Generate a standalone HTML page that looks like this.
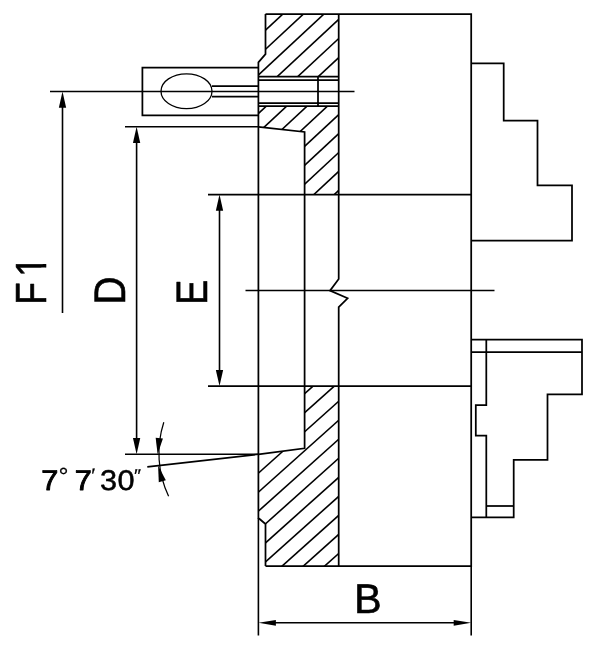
<!DOCTYPE html>
<html lang="en">
<head>
<meta charset="utf-8">
<title>Chuck dimension drawing</title>
<style>
html,body{margin:0;padding:0;background:#fff;}
body{width:600px;height:650px;overflow:hidden;}
svg{display:block;}
</style>
</head>
<body>
<svg width="600" height="650" viewBox="0 0 600 650">
<rect width="600" height="650" fill="#fff"/>
<defs>
<clipPath id="ct"><path d="M265.50 14.10 L338.70 14.10 L338.70 194.60 L304.60 194.60 L304.60 132.00 L258.40 126.80 L258.40 62.30 L265.50 54.20 Z"/></clipPath>
<clipPath id="cha"><path d="M0 0H600V76.60H0Z"/></clipPath>
<clipPath id="chb"><path d="M0 106.20H600V650H0Z"/></clipPath>
<clipPath id="cb"><path d="M304.60 386.10 L338.70 386.10 L338.70 566.00 L265.50 566.00 L265.50 524.00 L258.40 518.00 L258.40 454.30 L304.60 448.30 Z"/></clipPath>
</defs>
<g stroke="#000" stroke-width="1.60" fill="none">
<g clip-path="url(#ct)">
<g clip-path="url(#cha)">
<line x1="250.00" y1="6.41" x2="345.00" y2="-81.94"/>
<line x1="250.00" y1="25.51" x2="345.00" y2="-62.84"/>
<line x1="250.00" y1="44.61" x2="345.00" y2="-43.74"/>
<line x1="250.00" y1="63.71" x2="345.00" y2="-24.64"/>
<line x1="250.00" y1="82.81" x2="345.00" y2="-5.54"/>
<line x1="250.00" y1="101.91" x2="345.00" y2="13.56"/>
<line x1="250.00" y1="121.01" x2="345.00" y2="32.66"/>
<line x1="250.00" y1="140.11" x2="345.00" y2="51.76"/>
<line x1="250.00" y1="159.21" x2="345.00" y2="70.86"/>
</g>
<g clip-path="url(#chb)">
<line x1="250.00" y1="102.36" x2="345.00" y2="14.01"/>
<line x1="250.00" y1="121.31" x2="345.00" y2="32.96"/>
<line x1="250.00" y1="140.26" x2="345.00" y2="51.91"/>
<line x1="250.00" y1="159.21" x2="345.00" y2="70.86"/>
<line x1="250.00" y1="178.16" x2="345.00" y2="89.81"/>
<line x1="250.00" y1="197.11" x2="345.00" y2="108.76"/>
<line x1="250.00" y1="216.06" x2="345.00" y2="127.71"/>
<line x1="250.00" y1="235.01" x2="345.00" y2="146.66"/>
<line x1="250.00" y1="253.96" x2="345.00" y2="165.61"/>
<line x1="250.00" y1="272.91" x2="345.00" y2="184.56"/>
<line x1="250.00" y1="291.86" x2="345.00" y2="203.51"/>
</g>
</g>
<g clip-path="url(#cb)">
<line x1="250.00" y1="385.47" x2="345.00" y2="300.44"/>
<line x1="250.00" y1="404.50" x2="345.00" y2="319.47"/>
<line x1="250.00" y1="423.53" x2="345.00" y2="338.50"/>
<line x1="250.00" y1="442.56" x2="345.00" y2="357.53"/>
<line x1="250.00" y1="461.59" x2="345.00" y2="376.56"/>
<line x1="250.00" y1="480.62" x2="345.00" y2="395.59"/>
<line x1="250.00" y1="499.65" x2="345.00" y2="414.62"/>
<line x1="250.00" y1="518.68" x2="345.00" y2="433.65"/>
<line x1="250.00" y1="537.71" x2="345.00" y2="452.68"/>
<line x1="250.00" y1="556.74" x2="345.00" y2="471.71"/>
<line x1="250.00" y1="575.77" x2="345.00" y2="490.74"/>
<line x1="250.00" y1="594.80" x2="345.00" y2="509.77"/>
<line x1="250.00" y1="613.83" x2="345.00" y2="528.80"/>
<line x1="250.00" y1="632.86" x2="345.00" y2="547.83"/>
<line x1="250.00" y1="651.89" x2="345.00" y2="566.86"/>
</g>
</g>
<g stroke="#000" stroke-width="1.75" fill="none" stroke-linejoin="miter" stroke-linecap="butt">
<path d="M265.50 14.10 H471.20 V566.00 H265.50"/>
<path d="M265.50 14.10 V54.20 L258.40 62.30 V518.00 L265.50 524.00 V566.00"/>
<path d="M338.70 14.10 V279.00 L330.00 290.60 L347.60 298.30 L338.70 307.00 V566.00"/>
<path d="M258.40 126.80 L304.60 132.00 V448.30 L258.40 454.30"/>
<path d="M258.40 194.60 H471.20 M258.40 386.10 H471.20"/>
<path d="M258.40 76.60 H338.70 M258.40 80.00 H338.70 M258.40 103.20 H338.70 M258.40 106.20 H338.70 M318.00 76.60 V106.20"/>
<path d="M258.40 67.70 H142.40 V115.40 H258.40"/>
<path d="M212.00 86.20 H258.40 M212.00 96.60 H258.40"/>
<path d="M471.20 63.30 V63.30 H503.70 V120.50 H537.50 V185.30 H572.00 V240.50 H471.20"/>
<path d="M471.20 339.50 H582.00 V394.30 H547.50 V459.80 H513.70 V517.30 H471.20"/>
<path d="M471.20 352.00 H582.00"/>
<path d="M486.30 339.50 V405.00 H475.80 V435.60 H486.30 V517.30"/>
<path d="M486.30 506.00 H513.70"/>
</g>
<g stroke="#000" stroke-width="1.60" fill="none">
<g stroke-width="1.30">
<ellipse cx="186.50" cy="91.20" rx="25.50" ry="17.40"/>
<path d="M50.00 91.50 H354.50"/>
<path d="M245.50 290.50 H494.50"/>
</g>
<path d="M125.00 126.80 H258.40"/>
<path d="M125.00 454.30 H258.40"/>
<path d="M208.00 194.60 H258.40 M208.00 386.10 H258.40"/>
<path d="M258.40 518.00 V635.60 M471.20 566.00 V635.60"/>
<path d="M62.50 99.50 V313.00"/>
<path d="M136.60 134.80 V446.30"/>
<path d="M219.50 202.60 V378.10"/>
<path d="M266.40 622.80 H463.20"/>
<path d="M258.40 454.30 L147.30 466.90"/>
<path d="M163.8 422.3 A100.6 100.6 0 0 0 168.6 496.3" stroke-width="1.25"/>
</g>
<g fill="#000" stroke="none">
<polygon points="62.50,91.50 66.15,107.70 58.85,107.70"/>
<polygon points="136.60,126.80 140.25,143.00 132.95,143.00"/>
<polygon points="136.60,454.30 132.95,438.10 140.25,438.10"/>
<polygon points="219.50,194.60 223.15,210.80 215.85,210.80"/>
<polygon points="219.50,386.10 215.85,369.90 223.15,369.90"/>
<polygon points="258.40,622.80 275.90,619.90 275.90,625.70"/>
<polygon points="471.20,622.80 453.70,625.70 453.70,619.90"/>
<polygon points="157.60,454.30 155.66,437.81 162.92,438.57"/>
<polygon points="158.10,465.60 165.82,480.30 158.77,482.19"/>
</g>
<g fill="#000" stroke="#000" stroke-width="0.60" stroke-linejoin="round" style="opacity:0.999;text-rendering:geometricPrecision" font-family="'Liberation Sans', Arial, Helvetica, sans-serif">
<text transform="translate(354.10,613.50) scale(0.9436,0.9382)" font-size="44" x="0" y="0">B</text>
<text transform="translate(124.60,304.83) rotate(-90) scale(0.8940,1.0009)" font-size="44" x="0" y="0">D</text>
<text transform="translate(206.95,304.67) rotate(-90) scale(0.8512,0.9993)" font-size="44" x="0" y="0">E</text>
<clipPath id="c1"><path d="M-5 -60 H33.33 V10 H-5 Z M31.33 -60 H59.73 V-4.62 H31.33 V-60 Z M44.11 -4.84 H48.55 V5 H44.11 Z"/></clipPath>
<g transform="translate(46.00,304.63) rotate(-90) scale(0.8393,0.9894)"><text clip-path="url(#c1)" font-size="44" x="0 33.33" y="0">F1</text></g>
<text transform="translate(0,489.90) scale(1.0750,1)"><tspan x="38.48" y="0.00" font-size="28.5" stroke-width="0.95">7</tspan><tspan x="54.51" y="-5.43" font-size="23.3" stroke-width="0.25">° </tspan><tspan x="69.55" y="0.00" font-size="28.5" stroke-width="0.95">7</tspan><tspan x="84.93" y="-7.48" font-size="19.5" stroke-width="0.25">′ </tspan><tspan x="93.09" y="0.00" font-size="28.5" stroke-width="0.5">3</tspan><tspan x="109.28" y="0.00" font-size="28.5" stroke-width="0.5">0</tspan><tspan x="124.72" y="-8.37" font-size="18.5" stroke-width="0.25">″</tspan></text>
</g>
</svg>
</body>
</html>
